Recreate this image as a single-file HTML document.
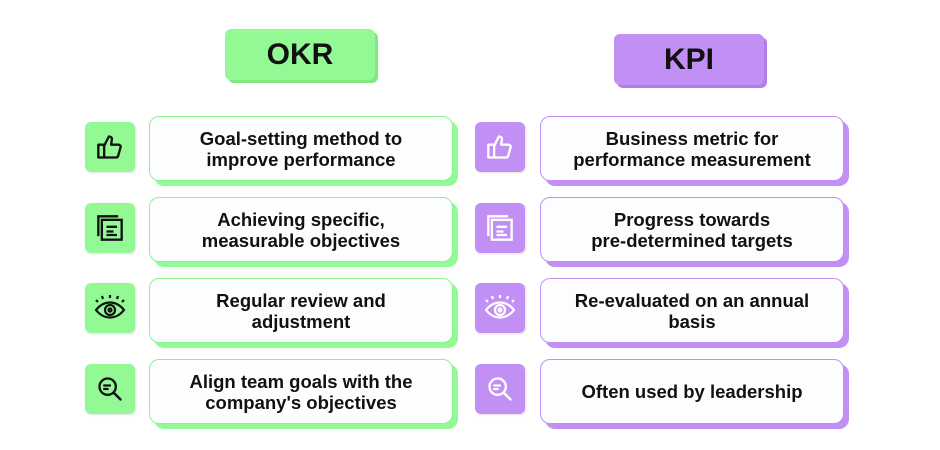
<!DOCTYPE html>
<html><head><style>
body{margin:0;width:940px;height:450px;background:#fff;position:relative;font-family:"Liberation Sans",Arial,sans-serif;overflow:hidden}
.h{position:absolute;width:150px;height:51px;border-radius:6px;display:flex;align-items:center;justify-content:center;font-size:30px;font-weight:bold;color:#111}
.ic{position:absolute;width:50px;height:50px;border-radius:6px;display:flex;align-items:center;justify-content:center}
.c{position:absolute;width:304px;height:65px;border-radius:10px;background:#fbfdff;border:1.5px solid;display:flex;align-items:center;justify-content:center;text-align:center;font-size:18.5px;font-weight:bold;color:#111;line-height:21px;box-sizing:border-box}
.g .h,.g .ic{background:#92f995}
.g .h{box-shadow:3px 3px 0 #7ee882}
.g .c{border-color:#8ef291;box-shadow:5px 5px 0 #92f995}
.p .h,.p .ic{background:#c28ff5}
.p .h{box-shadow:3px 3px 0 #b37de9}
.p .c{border-color:#c28ff5;box-shadow:5px 5px 0 #c28ff5}
.ic{box-shadow:1px 1px 2px rgba(0,0,0,.12)}
</style></head><body>
<div class="g">
<div class="h" style="left:225px;top:29px">OKR</div>
<div class="ic" style="left:85px;top:122px"><svg width="28" height="28" viewBox="0 0 24 24" fill="none" stroke="#111" stroke-width="2" stroke-linejoin="round"><rect x="2" y="10" width="5" height="11"/><path d="M7 11l4-8c2 0 3 1 2.5 3L13 10h6c1.5 0 2.5 1 2 2.5l-2 7c-.3 1-1 1.5-2 1.5H7"/></svg></div>
<div class="c" style="left:149px;top:116px">Goal-setting method to<br>improve performance</div>
<div class="ic" style="left:85px;top:203px"><svg width="28" height="28" viewBox="0 0 24 24" fill="none" stroke="#111" stroke-width="2"><rect x="5" y="5" width="17" height="17"/><path d="M2 19V2h17M9 11h9M9 15h6M9 18h9"/></svg></div>
<div class="c" style="left:149px;top:197px">Achieving specific,<br>measurable objectives</div>
<div class="ic" style="left:85px;top:283px"><svg width="34" height="30" viewBox="0 0 34 30" fill="none" stroke="#111" stroke-width="2.2"><path d="M3 17c8-10 20-10 28 0c-8 10-20 10-28 0z"/><circle cx="17" cy="17" r="5"/><circle cx="17" cy="17" r="1.5"/><path d="M5 9l-2-2M10 6l-1-3M17 5V2M24 6l1-3M29 9l2-2"/></svg></div>
<div class="c" style="left:149px;top:278px">Regular review and<br>adjustment</div>
<div class="ic" style="left:85px;top:364px"><svg width="28" height="28" viewBox="0 0 24 24" fill="none" stroke="#111" stroke-width="2"><circle cx="10" cy="10" r="7"/><path d="M7 9h5M7 12h3M15 15l6 6" stroke-linecap="round"/></svg></div>
<div class="c" style="left:149px;top:359px">Align team goals with the<br>company's objectives</div>
</div>
<div class="p">
<div class="h" style="left:614px;top:34px">KPI</div>
<div class="ic" style="left:475px;top:122px"><svg width="28" height="28" viewBox="0 0 24 24" fill="none" stroke="#fff" stroke-width="2" stroke-linejoin="round"><rect x="2" y="10" width="5" height="11"/><path d="M7 11l4-8c2 0 3 1 2.5 3L13 10h6c1.5 0 2.5 1 2 2.5l-2 7c-.3 1-1 1.5-2 1.5H7"/></svg></div>
<div class="c" style="left:540px;top:116px">Business metric for<br>performance measurement</div>
<div class="ic" style="left:475px;top:203px"><svg width="28" height="28" viewBox="0 0 24 24" fill="none" stroke="#fff" stroke-width="2"><rect x="5" y="5" width="17" height="17"/><path d="M2 19V2h17M9 11h9M9 15h6M9 18h9"/></svg></div>
<div class="c" style="left:540px;top:197px">Progress towards<br>pre-determined targets</div>
<div class="ic" style="left:475px;top:283px"><svg width="34" height="30" viewBox="0 0 34 30" fill="none" stroke="#fff" stroke-width="2.2"><path d="M3 17c8-10 20-10 28 0c-8 10-20 10-28 0z"/><circle cx="17" cy="17" r="5"/><circle cx="17" cy="17" r="1.5"/><path d="M5 9l-2-2M10 6l-1-3M17 5V2M24 6l1-3M29 9l2-2"/></svg></div>
<div class="c" style="left:540px;top:278px">Re-evaluated on an annual<br>basis</div>
<div class="ic" style="left:475px;top:364px"><svg width="28" height="28" viewBox="0 0 24 24" fill="none" stroke="#fff" stroke-width="2"><circle cx="10" cy="10" r="7"/><path d="M7 9h5M7 12h3M15 15l6 6" stroke-linecap="round"/></svg></div>
<div class="c" style="left:540px;top:359px">Often used by leadership</div>
</div>
</body></html>
